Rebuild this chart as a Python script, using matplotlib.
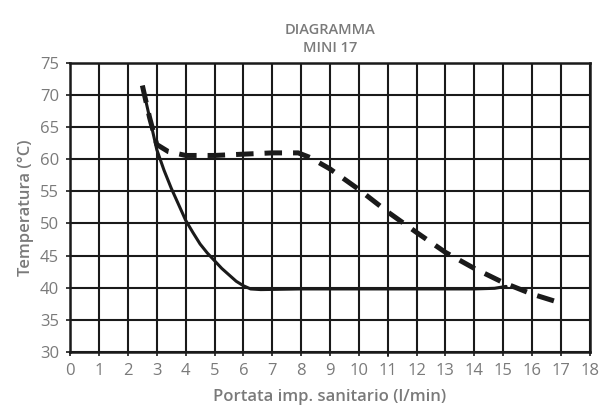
import matplotlib.pyplot as plt
import numpy as np

# solid curve
solid_x = [2.55, 2.8, 3.0, 3.25, 3.5, 3.75, 4.0, 4.25, 4.5, 4.75, 5.0, 5.25, 5.5,
           5.75, 6.0, 6.25, 6.6, 8, 10, 12, 14, 14.7, 15.1]
solid_y = [70.5, 65.5, 61.5, 58.3, 55.5, 53.0, 50.5, 48.6, 46.8, 45.4, 44.2, 43.0, 42.0,
           41.0, 40.3, 39.8, 39.7, 39.8, 39.8, 39.8, 39.8, 39.9, 40.2]

# dashed curve
dash_x = [2.5, 2.75, 3.0, 3.4, 4.0, 5.0, 6.0, 7.0, 7.9, 8.3, 9.0, 10.0, 11.0, 12.0, 13.0, 14.0, 15.0, 16.0, 17.0]
dash_y = [71.5, 66.5, 62.3, 61.2, 60.6, 60.6, 60.8, 61.0, 61.0, 60.3, 58.5, 55.3, 51.8, 48.6, 45.5, 43.0, 40.8, 39.0, 37.6]

x_ticks = np.arange(0, 19, 1)
y_ticks = np.arange(30, 80, 5)

grey = "#7a7a7a"
plt.rcParams["font.family"] = ["Open Sans", "DejaVu Sans"]

fig = plt.figure(figsize=(6, 4.12), dpi=100)
ax = fig.add_axes([0.117, 0.146, 0.866, 0.701])

ax.set_xlim(0, 18)
ax.set_ylim(30, 75)
ax.set_xticks(x_ticks)
ax.set_yticks(y_ticks)
ax.grid(True, color="#1a1a1a", linewidth=1.5)
ax.set_axisbelow(True)
for spine in ax.spines.values():
    spine.set_color("#1a1a1a")
    spine.set_linewidth(1.8)

ax.plot(solid_x, solid_y, color="#1a1a1a", linewidth=2.2, solid_capstyle="round",
        solid_joinstyle="round")
ax.plot(dash_x, dash_y, color="#1a1a1a", linewidth=3.6, dashes=(3.5, 2.2))
# scan artefact: short stub at x = 11
ax.plot([11, 11], [35, 29.3], color="#1a1a1a", linewidth=1.2, clip_on=False)

ax.tick_params(axis="both", colors="#1a1a1a", labelcolor=grey, labelsize=12,
               length=3, width=1.2, direction="out", pad=5)

ax.set_xlabel("Portata imp. sanitario (l/min)", color=grey, fontsize=12,
              fontweight="semibold", labelpad=7)
ax.set_ylabel("Temperatura (°C)", color=grey, fontsize=12,
              fontweight="semibold", labelpad=4)
ax.set_title("DIAGRAMMA\nMINI 17", color=grey, fontsize=10.5, fontweight="semibold",
             linespacing=1.35, pad=8)

fig.savefig("out.png", dpi=100)
